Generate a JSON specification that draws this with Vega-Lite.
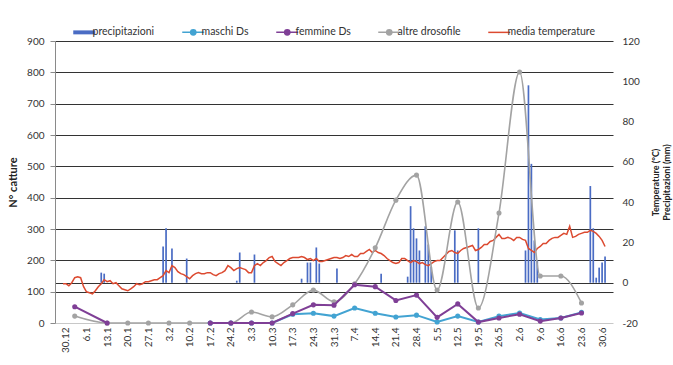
{
  "$schema": "https://vega.github.io/schema/vega-lite/v6.json",
  "autosize": "none",
  "width": 558,
  "height": 282,
  "padding": {"left": 55, "top": 41, "right": 60, "bottom": 42},
  "background": "white",
  "config": {
    "font": "Lato",
    "view": {"stroke": null},
    "axis": {"labelFont": "Lato", "titleFont": "Lato", "labelColor": "#333333", "titleColor": "#222222"}
  },
  "datasets": {
    "catture": [
      {"date": "2014-01-02", "serie": "altre drosofile", "n": 22},
      {"date": "2014-01-13", "serie": "altre drosofile", "n": 0},
      {"date": "2014-01-20", "serie": "altre drosofile", "n": 0},
      {"date": "2014-01-27", "serie": "altre drosofile", "n": 0},
      {"date": "2014-02-03", "serie": "altre drosofile", "n": 0},
      {"date": "2014-02-10", "serie": "altre drosofile", "n": 0},
      {"date": "2014-02-17", "serie": "altre drosofile", "n": 0},
      {"date": "2014-02-24", "serie": "altre drosofile", "n": 0},
      {"date": "2014-03-03", "serie": "altre drosofile", "n": 35},
      {"date": "2014-03-10", "serie": "altre drosofile", "n": 20},
      {"date": "2014-03-17", "serie": "altre drosofile", "n": 58},
      {"date": "2014-03-24", "serie": "altre drosofile", "n": 105},
      {"date": "2014-03-31", "serie": "altre drosofile", "n": 68},
      {"date": "2014-04-07", "serie": "altre drosofile", "n": 125},
      {"date": "2014-04-14", "serie": "altre drosofile", "n": 240},
      {"date": "2014-04-21", "serie": "altre drosofile", "n": 392},
      {"date": "2014-04-28", "serie": "altre drosofile", "n": 472},
      {"date": "2014-05-05", "serie": "altre drosofile", "n": 105},
      {"date": "2014-05-12", "serie": "altre drosofile", "n": 386},
      {"date": "2014-05-19", "serie": "altre drosofile", "n": 48},
      {"date": "2014-05-26", "serie": "altre drosofile", "n": 351},
      {"date": "2014-06-02", "serie": "altre drosofile", "n": 801},
      {"date": "2014-06-09", "serie": "altre drosofile", "n": 150},
      {"date": "2014-06-16", "serie": "altre drosofile", "n": 150},
      {"date": "2014-06-23", "serie": "altre drosofile", "n": 64},
      {"date": "2014-02-17", "serie": "maschi Ds", "n": 0},
      {"date": "2014-02-24", "serie": "maschi Ds", "n": 0},
      {"date": "2014-03-03", "serie": "maschi Ds", "n": 0},
      {"date": "2014-03-10", "serie": "maschi Ds", "n": 0},
      {"date": "2014-03-17", "serie": "maschi Ds", "n": 28},
      {"date": "2014-03-24", "serie": "maschi Ds", "n": 31},
      {"date": "2014-03-31", "serie": "maschi Ds", "n": 22},
      {"date": "2014-04-07", "serie": "maschi Ds", "n": 48},
      {"date": "2014-04-14", "serie": "maschi Ds", "n": 31},
      {"date": "2014-04-21", "serie": "maschi Ds", "n": 19},
      {"date": "2014-04-28", "serie": "maschi Ds", "n": 25},
      {"date": "2014-05-05", "serie": "maschi Ds", "n": 3},
      {"date": "2014-05-12", "serie": "maschi Ds", "n": 22},
      {"date": "2014-05-19", "serie": "maschi Ds", "n": 3},
      {"date": "2014-05-26", "serie": "maschi Ds", "n": 22},
      {"date": "2014-06-02", "serie": "maschi Ds", "n": 32},
      {"date": "2014-06-09", "serie": "maschi Ds", "n": 11},
      {"date": "2014-06-16", "serie": "maschi Ds", "n": 16},
      {"date": "2014-06-23", "serie": "maschi Ds", "n": 34},
      {"date": "2014-01-02", "serie": "femmine Ds", "n": 52},
      {"date": "2014-01-13", "serie": "femmine Ds", "n": 0},
      {"date": "2014-01-20", "serie": "femmine Ds", "n": null},
      {"date": "2014-01-27", "serie": "femmine Ds", "n": null},
      {"date": "2014-02-03", "serie": "femmine Ds", "n": null},
      {"date": "2014-02-10", "serie": "femmine Ds", "n": null},
      {"date": "2014-02-17", "serie": "femmine Ds", "n": 0},
      {"date": "2014-02-24", "serie": "femmine Ds", "n": 0},
      {"date": "2014-03-03", "serie": "femmine Ds", "n": 0},
      {"date": "2014-03-10", "serie": "femmine Ds", "n": 0},
      {"date": "2014-03-17", "serie": "femmine Ds", "n": 30},
      {"date": "2014-03-24", "serie": "femmine Ds", "n": 58},
      {"date": "2014-03-31", "serie": "femmine Ds", "n": 57},
      {"date": "2014-04-07", "serie": "femmine Ds", "n": 122},
      {"date": "2014-04-14", "serie": "femmine Ds", "n": 116},
      {"date": "2014-04-21", "serie": "femmine Ds", "n": 72},
      {"date": "2014-04-28", "serie": "femmine Ds", "n": 89},
      {"date": "2014-05-05", "serie": "femmine Ds", "n": 18},
      {"date": "2014-05-12", "serie": "femmine Ds", "n": 61},
      {"date": "2014-05-19", "serie": "femmine Ds", "n": 3},
      {"date": "2014-05-26", "serie": "femmine Ds", "n": 16},
      {"date": "2014-06-02", "serie": "femmine Ds", "n": 28},
      {"date": "2014-06-09", "serie": "femmine Ds", "n": 6},
      {"date": "2014-06-16", "serie": "femmine Ds", "n": 16},
      {"date": "2014-06-23", "serie": "femmine Ds", "n": 32}
    ],
    "pioggia": [
      {"date": "2014-01-11", "mm": 5}, {"date": "2014-01-12", "mm": 4.5},
      {"date": "2014-02-01", "mm": 18}, {"date": "2014-02-02", "mm": 27}, {"date": "2014-02-04", "mm": 17}, {"date": "2014-02-09", "mm": 12},
      {"date": "2014-02-26", "mm": 1}, {"date": "2014-02-27", "mm": 15}, {"date": "2014-03-04", "mm": 14},
      {"date": "2014-03-20", "mm": 2}, {"date": "2014-03-22", "mm": 10}, {"date": "2014-03-23", "mm": 10}, {"date": "2014-03-25", "mm": 17.5}, {"date": "2014-03-26", "mm": 9.5},
      {"date": "2014-04-01", "mm": 7}, {"date": "2014-04-16", "mm": 4.5},
      {"date": "2014-04-25", "mm": 3}, {"date": "2014-04-26", "mm": 38}, {"date": "2014-04-27", "mm": 27}, {"date": "2014-04-28", "mm": 22}, {"date": "2014-04-29", "mm": 16},
      {"date": "2014-05-01", "mm": 28}, {"date": "2014-05-02", "mm": 19}, {"date": "2014-05-03", "mm": 8},
      {"date": "2014-05-11", "mm": 26}, {"date": "2014-05-12", "mm": 16}, {"date": "2014-05-19", "mm": 27},
      {"date": "2014-06-04", "mm": 16}, {"date": "2014-06-05", "mm": 98}, {"date": "2014-06-06", "mm": 59}, {"date": "2014-06-07", "mm": 21}, {"date": "2014-06-08", "mm": 11},
      {"date": "2014-06-26", "mm": 48}, {"date": "2014-06-27", "mm": 27}, {"date": "2014-06-28", "mm": 2.5}, {"date": "2014-06-29", "mm": 7.5}, {"date": "2014-06-30", "mm": 10}, {"date": "2014-07-01", "mm": 13}
    ],
    "temperatura": [
      {"date": "2013-12-29", "temp": -0.5}, {"date": "2013-12-30", "temp": -0.5}, {"date": "2013-12-31", "temp": -1.5},
      {"date": "2014-01-01", "temp": 0}, {"date": "2014-01-02", "temp": 2.5}, {"date": "2014-01-03", "temp": 3}, {"date": "2014-01-04", "temp": 2.5},
      {"date": "2014-01-05", "temp": -2}, {"date": "2014-01-06", "temp": -4.5}, {"date": "2014-01-07", "temp": -5}, {"date": "2014-01-08", "temp": -5.5},
      {"date": "2014-01-09", "temp": -4}, {"date": "2014-01-10", "temp": -2}, {"date": "2014-01-11", "temp": -0.5}, {"date": "2014-01-12", "temp": 1.5},
      {"date": "2014-01-13", "temp": 0.5}, {"date": "2014-01-14", "temp": 1}, {"date": "2014-01-15", "temp": -0.5}, {"date": "2014-01-16", "temp": 0},
      {"date": "2014-01-17", "temp": -1.5}, {"date": "2014-01-18", "temp": -3}, {"date": "2014-01-19", "temp": -3.5}, {"date": "2014-01-20", "temp": -4},
      {"date": "2014-01-21", "temp": -3}, {"date": "2014-01-22", "temp": -2}, {"date": "2014-01-23", "temp": -0.5}, {"date": "2014-01-24", "temp": -1},
      {"date": "2014-01-25", "temp": -0.5}, {"date": "2014-01-26", "temp": 0.5}, {"date": "2014-01-27", "temp": 0.5}, {"date": "2014-01-28", "temp": 1},
      {"date": "2014-01-29", "temp": 1.5}, {"date": "2014-01-30", "temp": 1.5}, {"date": "2014-01-31", "temp": 2.5},
      {"date": "2014-02-01", "temp": 3.5}, {"date": "2014-02-02", "temp": 6}, {"date": "2014-02-03", "temp": 5}, {"date": "2014-02-04", "temp": 8.5},
      {"date": "2014-02-05", "temp": 7.5}, {"date": "2014-02-06", "temp": 5.5}, {"date": "2014-02-07", "temp": 4.5}, {"date": "2014-02-08", "temp": 4},
      {"date": "2014-02-09", "temp": 3}, {"date": "2014-02-10", "temp": 2}, {"date": "2014-02-11", "temp": 3.5}, {"date": "2014-02-12", "temp": 4.5},
      {"date": "2014-02-13", "temp": 5}, {"date": "2014-02-14", "temp": 4.5}, {"date": "2014-02-15", "temp": 4.5}, {"date": "2014-02-16", "temp": 5},
      {"date": "2014-02-17", "temp": 5}, {"date": "2014-02-18", "temp": 4}, {"date": "2014-02-19", "temp": 3.5}, {"date": "2014-02-20", "temp": 4.5},
      {"date": "2014-02-21", "temp": 5}, {"date": "2014-02-22", "temp": 6}, {"date": "2014-02-23", "temp": 8.5}, {"date": "2014-02-24", "temp": 7.5},
      {"date": "2014-02-25", "temp": 6}, {"date": "2014-02-26", "temp": 7}, {"date": "2014-02-27", "temp": 7.5}, {"date": "2014-02-28", "temp": 7},
      {"date": "2014-03-01", "temp": 6.5}, {"date": "2014-03-02", "temp": 5}, {"date": "2014-03-03", "temp": 5}, {"date": "2014-03-04", "temp": 8.5},
      {"date": "2014-03-05", "temp": 9.5}, {"date": "2014-03-06", "temp": 8.5}, {"date": "2014-03-07", "temp": 10}, {"date": "2014-03-08", "temp": 11},
      {"date": "2014-03-09", "temp": 12.5}, {"date": "2014-03-10", "temp": 13}, {"date": "2014-03-11", "temp": 10.5}, {"date": "2014-03-12", "temp": 9.5},
      {"date": "2014-03-13", "temp": 8.5}, {"date": "2014-03-14", "temp": 10}, {"date": "2014-03-15", "temp": 11}, {"date": "2014-03-16", "temp": 12},
      {"date": "2014-03-17", "temp": 12.5}, {"date": "2014-03-18", "temp": 12.5}, {"date": "2014-03-19", "temp": 12.5}, {"date": "2014-03-20", "temp": 13},
      {"date": "2014-03-21", "temp": 12.5}, {"date": "2014-03-22", "temp": 11.5}, {"date": "2014-03-23", "temp": 12}, {"date": "2014-03-24", "temp": 11},
      {"date": "2014-03-25", "temp": 12}, {"date": "2014-03-26", "temp": 10.5}, {"date": "2014-03-27", "temp": 10.5}, {"date": "2014-03-28", "temp": 11},
      {"date": "2014-03-29", "temp": 11.5}, {"date": "2014-03-30", "temp": 12}, {"date": "2014-03-31", "temp": 12.5},
      {"date": "2014-04-01", "temp": 12.5}, {"date": "2014-04-02", "temp": 12}, {"date": "2014-04-03", "temp": 12.5}, {"date": "2014-04-04", "temp": 13.5},
      {"date": "2014-04-05", "temp": 13}, {"date": "2014-04-06", "temp": 14}, {"date": "2014-04-07", "temp": 13}, {"date": "2014-04-08", "temp": 13},
      {"date": "2014-04-09", "temp": 14.5}, {"date": "2014-04-10", "temp": 14.5}, {"date": "2014-04-11", "temp": 15.5}, {"date": "2014-04-12", "temp": 16.5},
      {"date": "2014-04-13", "temp": 15}, {"date": "2014-04-14", "temp": 16}, {"date": "2014-04-15", "temp": 15}, {"date": "2014-04-16", "temp": 14.5},
      {"date": "2014-04-17", "temp": 13.5}, {"date": "2014-04-18", "temp": 12}, {"date": "2014-04-19", "temp": 11}, {"date": "2014-04-20", "temp": 10},
      {"date": "2014-04-21", "temp": 9.5}, {"date": "2014-04-22", "temp": 10}, {"date": "2014-04-23", "temp": 12}, {"date": "2014-04-24", "temp": 12},
      {"date": "2014-04-25", "temp": 11}, {"date": "2014-04-26", "temp": 10}, {"date": "2014-04-27", "temp": 11}, {"date": "2014-04-28", "temp": 10.5},
      {"date": "2014-04-29", "temp": 9.5}, {"date": "2014-04-30", "temp": 10},
      {"date": "2014-05-01", "temp": 9}, {"date": "2014-05-02", "temp": 8.5}, {"date": "2014-05-03", "temp": 9.5}, {"date": "2014-05-04", "temp": 10.5},
      {"date": "2014-05-05", "temp": 11}, {"date": "2014-05-06", "temp": 11}, {"date": "2014-05-07", "temp": 12.5}, {"date": "2014-05-08", "temp": 14},
      {"date": "2014-05-09", "temp": 15.5}, {"date": "2014-05-10", "temp": 16}, {"date": "2014-05-11", "temp": 15}, {"date": "2014-05-12", "temp": 14.5},
      {"date": "2014-05-13", "temp": 16}, {"date": "2014-05-14", "temp": 17}, {"date": "2014-05-15", "temp": 17.5}, {"date": "2014-05-16", "temp": 18},
      {"date": "2014-05-17", "temp": 18.5}, {"date": "2014-05-18", "temp": 16}, {"date": "2014-05-19", "temp": 16.5}, {"date": "2014-05-20", "temp": 17.5},
      {"date": "2014-05-21", "temp": 19}, {"date": "2014-05-22", "temp": 19}, {"date": "2014-05-23", "temp": 20.5}, {"date": "2014-05-24", "temp": 21},
      {"date": "2014-05-25", "temp": 22.5}, {"date": "2014-05-26", "temp": 24}, {"date": "2014-05-27", "temp": 22}, {"date": "2014-05-28", "temp": 22},
      {"date": "2014-05-29", "temp": 22.5}, {"date": "2014-05-30", "temp": 22}, {"date": "2014-05-31", "temp": 21},
      {"date": "2014-06-01", "temp": 22.5}, {"date": "2014-06-02", "temp": 22.5}, {"date": "2014-06-03", "temp": 21.5}, {"date": "2014-06-04", "temp": 21},
      {"date": "2014-06-05", "temp": 17}, {"date": "2014-06-06", "temp": 16}, {"date": "2014-06-07", "temp": 15}, {"date": "2014-06-08", "temp": 17},
      {"date": "2014-06-09", "temp": 18}, {"date": "2014-06-10", "temp": 19.5}, {"date": "2014-06-11", "temp": 19.5}, {"date": "2014-06-12", "temp": 21},
      {"date": "2014-06-13", "temp": 22}, {"date": "2014-06-14", "temp": 22.5}, {"date": "2014-06-15", "temp": 22.5}, {"date": "2014-06-16", "temp": 23.5},
      {"date": "2014-06-17", "temp": 24.5}, {"date": "2014-06-18", "temp": 24}, {"date": "2014-06-19", "temp": 28}, {"date": "2014-06-20", "temp": 22.5},
      {"date": "2014-06-21", "temp": 23}, {"date": "2014-06-22", "temp": 24}, {"date": "2014-06-23", "temp": 24.5}, {"date": "2014-06-24", "temp": 25},
      {"date": "2014-06-25", "temp": 25}, {"date": "2014-06-26", "temp": 26}, {"date": "2014-06-27", "temp": 25.5}, {"date": "2014-06-28", "temp": 24.5},
      {"date": "2014-06-29", "temp": 23}, {"date": "2014-06-30", "temp": 21}, {"date": "2014-07-01", "temp": 18}
    ]
  },
  "encoding": {
    "x": {
      "field": "date", "type": "temporal",
      "scale": {"type": "utc", "domain": [{"year": 2013, "month": 12, "date": 28, "utc": true}, {"year": 2014, "month": 7, "date": 2, "utc": true}]},
      "axis": {
        "title": null,
        "values": [
          {"year": 2013, "month": 12, "date": 30, "utc": true},
          {"year": 2014, "month": 1, "date": 6, "utc": true},
          {"year": 2014, "month": 1, "date": 13, "utc": true},
          {"year": 2014, "month": 1, "date": 20, "utc": true},
          {"year": 2014, "month": 1, "date": 27, "utc": true},
          {"year": 2014, "month": 2, "date": 3, "utc": true},
          {"year": 2014, "month": 2, "date": 10, "utc": true},
          {"year": 2014, "month": 2, "date": 17, "utc": true},
          {"year": 2014, "month": 2, "date": 24, "utc": true},
          {"year": 2014, "month": 3, "date": 3, "utc": true},
          {"year": 2014, "month": 3, "date": 10, "utc": true},
          {"year": 2014, "month": 3, "date": 17, "utc": true},
          {"year": 2014, "month": 3, "date": 24, "utc": true},
          {"year": 2014, "month": 3, "date": 31, "utc": true},
          {"year": 2014, "month": 4, "date": 7, "utc": true},
          {"year": 2014, "month": 4, "date": 14, "utc": true},
          {"year": 2014, "month": 4, "date": 21, "utc": true},
          {"year": 2014, "month": 4, "date": 28, "utc": true},
          {"year": 2014, "month": 5, "date": 5, "utc": true},
          {"year": 2014, "month": 5, "date": 12, "utc": true},
          {"year": 2014, "month": 5, "date": 19, "utc": true},
          {"year": 2014, "month": 5, "date": 26, "utc": true},
          {"year": 2014, "month": 6, "date": 2, "utc": true},
          {"year": 2014, "month": 6, "date": 9, "utc": true},
          {"year": 2014, "month": 6, "date": 16, "utc": true},
          {"year": 2014, "month": 6, "date": 23, "utc": true},
          {"year": 2014, "month": 6, "date": 30, "utc": true}
        ],
        "labelExpr": "utcFormat(datum.value, '%-d.%-m')",
        "labelAngle": 270, "labelFontSize": 10, "labelPadding": 4,
        "grid": false, "ticks": false, "domainColor": "#c8c8c8", "labelOverlap": false
      }
    }
  },
  "layer": [
    {
      "layer": [
        {
          "data": {"name": "pioggia"},
          "mark": {"type": "bar", "size": 1.7},
          "encoding": {
            "y": {
              "field": "mm", "type": "quantitative",
              "scale": {"domain": [-20, 120], "nice": false},
              "axis": {
                "orient": "right",
                "title": ["Temperature (°C)", "Precipitazioni (mm)"],
                "titleAngle": 270, "titleFontSize": 9, "titleFontWeight": "bold", "titlePadding": 10, "titleLineHeight": 11,
                "values": [-20, 0, 20, 40, 60, 80, 100, 120],
                "labelExpr": "'' + datum.value",
                "labelFontSize": 10, "labelPadding": 9,
                "domain": false, "ticks": false,
                "grid": true, "gridColor": "#333333", "gridWidth": 1,
                "gridOpacity": {"condition": {"test": "datum.value === 0", "value": 1}, "value": 0}
              }
            },
            "color": {
              "datum": "precipitazioni",
              "scale": {
                "domain": ["precipitazioni", "maschi Ds", "femmine Ds", "altre drosofile", "media temperature"],
                "range": ["#4a6cc4", "#42a3d2", "#7f3f96", "#a3a3a3", "#dc4a30"]
              },
              "legend": {
                "orient": "none", "legendX": 24, "legendY": -14, "direction": "horizontal", "title": null,
                "symbolSize": 484, "labelFontSize": 10.5, "labelFont": "Lato", "labelColor": "#333333",
                "labelOffset": 3, "columnPadding": 24, "padding": 0,
                "encode": {
                  "symbols": {
                    "update": {
                      "shape": {"signal": "datum.value === 'precipitazioni' ? 'M-1,-0.18H1V0.18H-1Z' : datum.value === 'media temperature' ? 'M-1,0H1' : 'M-1,0H1M0.24,0A0.24,0.24,0,1,1,-0.24,0A0.24,0.24,0,1,1,0.24,0Z'"},
                      "fill": {"signal": "datum.value === 'media temperature' ? 'transparent' : scale('color', datum.value)"},
                      "stroke": {"signal": "scale('color', datum.value)"},
                      "strokeWidth": {"signal": "datum.value === 'precipitazioni' ? 0 : 1.5"},
                      "opacity": {"value": 1},
                      "fillOpacity": {"value": 1},
                      "strokeOpacity": {"value": 1}
                    }
                  }
                }
              }
            }
          }
        },
        {
          "data": {"name": "temperatura"},
          "mark": {"type": "line", "strokeWidth": 1.5},
          "encoding": {
            "y": {"field": "temp", "type": "quantitative"},
            "color": {"datum": "media temperature"}
          }
        }
      ]
    },
    {
      "data": {"name": "catture"},
      "encoding": {
        "y": {
          "field": "n", "type": "quantitative",
          "scale": {"domain": [0, 900], "nice": false},
          "axis": {
            "orient": "left",
            "title": "N° catture", "titleFontSize": 11, "titleFontWeight": "bold", "titlePadding": 8,
            "values": [0, 100, 200, 300, 400, 500, 600, 700, 800, 900],
            "labelFontSize": 10, "labelPadding": 6,
            "domain": true, "domainColor": "#8a8a8a",
            "ticks": true, "tickSize": 5, "tickColor": "#8a8a8a",
            "grid": true, "gridColor": "#333333", "gridWidth": 1,
            "gridOpacity": {"condition": {"test": "datum.value === 0", "value": 0}, "value": 1}
          }
        },
        "color": {
          "field": "serie", "type": "nominal",
          "legend": {
            "orient": "none", "legendX": 24, "legendY": -14, "direction": "horizontal", "title": null,
            "symbolSize": 484, "labelFontSize": 10.5, "labelFont": "Lato", "labelColor": "#333333",
            "labelOffset": 3, "columnPadding": 24, "padding": 0,
            "encode": {
              "symbols": {
                "update": {
                  "shape": {"signal": "datum.value === 'precipitazioni' ? 'M-1,-0.18H1V0.18H-1Z' : datum.value === 'media temperature' ? 'M-1,0H1' : 'M-1,0H1M0.24,0A0.24,0.24,0,1,1,-0.24,0A0.24,0.24,0,1,1,0.24,0Z'"},
                  "fill": {"signal": "datum.value === 'media temperature' ? 'transparent' : scale('color', datum.value)"},
                  "stroke": {"signal": "scale('color', datum.value)"},
                  "strokeWidth": {"signal": "datum.value === 'precipitazioni' ? 0 : 1.5"},
                  "opacity": {"value": 1},
                  "fillOpacity": {"value": 1},
                  "strokeOpacity": {"value": 1}
                }
              }
            }
          }
        }
      },
      "layer": [
        {
          "transform": [{"filter": "datum.serie === 'altre drosofile'"}],
          "layer": [
            {"mark": {"type": "line", "strokeWidth": 1.6, "interpolate": "monotone"}},
            {"mark": {"type": "point", "filled": true, "size": 26, "opacity": 1}}
          ]
        },
        {
          "transform": [{"filter": "datum.serie === 'maschi Ds'"}],
          "layer": [
            {"mark": {"type": "line", "strokeWidth": 2}},
            {"mark": {"type": "point", "filled": true, "size": 26, "opacity": 1}}
          ]
        },
        {
          "transform": [{"filter": "datum.serie === 'femmine Ds'"}],
          "layer": [
            {"mark": {"type": "line", "strokeWidth": 2, "invalid": "break-paths-filter-domains"}},
            {"mark": {"type": "point", "filled": true, "size": 26, "opacity": 1}}
          ]
        }
      ]
    }
  ],
  "resolve": {"scale": {"y": "independent"}}
}
